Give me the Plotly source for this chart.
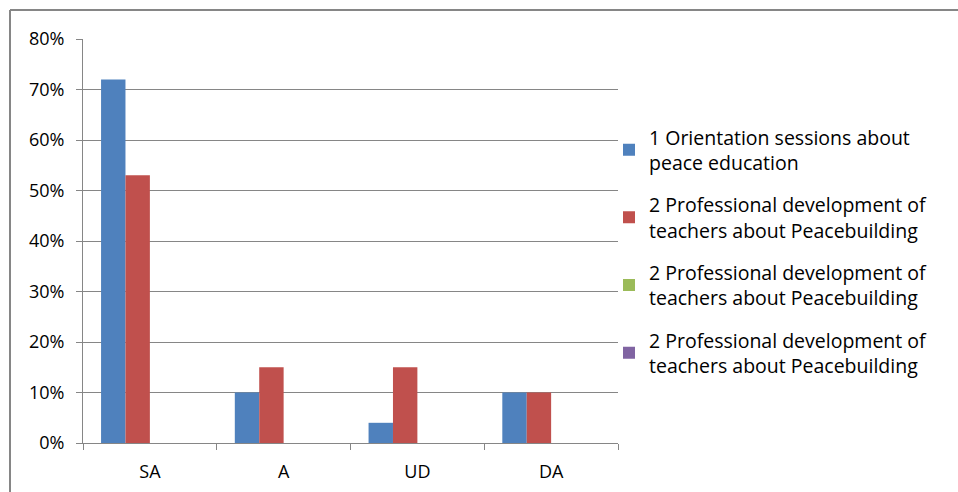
import plotly.graph_objects as go

categories = ["SA", "A", "UD", "DA"]
series_names = [
    "1 Orientation sessions about<br>peace education",
    "2 Professional development of<br>teachers about Peacebuilding",
    "2 Professional development of<br>teachers about Peacebuilding",
    "2 Professional development of<br>teachers about Peacebuilding",
]
series_values = [
    [0.72, 0.10, 0.04, 0.10],
    [0.53, 0.15, 0.15, 0.10],
    [0, 0, 0, 0],
    [0, 0, 0, 0],
]
series_colors = ["#4F81BD", "#C0504D", "#9BBB59", "#8064A2"]
y_ticks = [0, 0.1, 0.2, 0.3, 0.4, 0.5, 0.6, 0.7, 0.8]

W, H = 958, 492
L, R, T, B = 83, 618, 39, 443

fig = go.Figure()
for i, (name, vals, col) in enumerate(zip(series_names, series_values, series_colors)):
    fig.add_trace(go.Bar(x=categories, y=vals, name=name, marker_color=col,
                         marker_line_width=0, legendgroup=f"g{i}"))

grey = "#868686"
fig.update_layout(
    width=W, height=H,
    margin=dict(l=L, r=W - R, t=T, b=H - B, pad=0, autoexpand=False),
    paper_bgcolor="white", plot_bgcolor="white",
    barmode="group", bargap=0.27, bargroupgap=0,
    font=dict(family="Open Sans, sans-serif", size=17, color="black"),
    legend=dict(x=(609 - L) / (R - L), xanchor="left", y=0.805, yanchor="top",
                font=dict(size=19.5, color="black"), tracegroupgap=14,
                bgcolor="rgba(0,0,0,0)"),
    showlegend=True,
)
fig.update_yaxes(range=[0, 0.8], tickvals=y_ticks, tickformat=".0%",
                 showgrid=True, gridcolor=grey, gridwidth=1,
                 showline=True, linecolor=grey, linewidth=1,
                 ticks="outside", ticklen=6, tickcolor=grey,
                 zeroline=False, ticklabelstandoff=8, automargin=False,
                 tickfont=dict(size=18, color="black"))
fig.update_xaxes(showgrid=False, showline=True, linecolor=grey, linewidth=1,
                 ticks="outside", ticklen=6, tickcolor=grey, tickson="boundaries",
                 ticklabelstandoff=12, automargin=False,
                 tickfont=dict(size=18, color="black"))

pw, ph = R - L, B - T
def px(x):
    return (x - L) / pw
def py(y):
    return (B - y) / ph
fig.add_shape(type="line", xref="paper", yref="paper", x0=px(10), x1=px(970),
              y0=py(10), y1=py(10), line=dict(color=grey, width=2))
fig.add_shape(type="line", xref="paper", yref="paper", x0=px(10), x1=px(10),
              y0=py(10), y1=py(500), line=dict(color=grey, width=2))

fig.write_html("out.html", config={"displayModeBar": False},
               post_script="document.body.style.margin='0';document.body.style.overflow='hidden';")
